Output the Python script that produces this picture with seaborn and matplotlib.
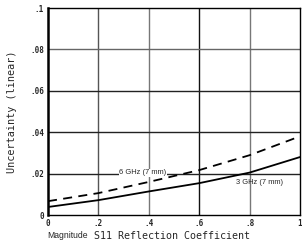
import numpy as np
import pandas as pd
import matplotlib
matplotlib.use("Agg")
import matplotlib.pyplot as plt
import seaborn as sns

# values
magnitude = [0.0, 0.2, 0.4, 0.6, 0.8, 1.0]
unc_3ghz = [0.0039, 0.0072, 0.0114, 0.0154, 0.0205, 0.0280]
unc_6ghz = [0.0067, 0.0106, 0.0160, 0.0217, 0.0289, 0.0380]
xticks = [0, 0.2, 0.4, 0.6, 0.8, 1.0]
xlabels = ["0", ".2", ".4", ".6", ".8", "1"]
yticks = [0, 0.02, 0.04, 0.06, 0.08, 0.1]
ylabels = ["0", ".02", ".04", ".06", ".08", ".1"]

df = pd.DataFrame({"mag": magnitude, "3 GHz": unc_3ghz, "6 GHz": unc_6ghz})
df = df.melt(id_vars="mag", var_name="freq", value_name="unc")

sns.set_style("white")
plt.rcParams["font.family"] = ["DejaVu Sans"]

fig = plt.figure(figsize=(3.02, 2.43), dpi=100)
ax = fig.add_axes([0.159, 0.115, 0.834, 0.852])

sns.lineplot(data=df, x="mag", y="unc", style="freq", color="black",
             dashes={"3 GHz": "", "6 GHz": (5, 3.5)}, lw=1.3, legend=False, ax=ax)

ax.set_xlim(0, 1)
ax.set_ylim(0, 0.1)
ax.set_xticks(xticks)
ax.set_xticklabels(xlabels)
ax.set_yticks(yticks)
ax.set_yticklabels(ylabels)
ax.tick_params(length=0, labelsize=5.5, pad=3)
for t in ax.get_xticklabels() + ax.get_yticklabels():
    t.set_family("DejaVu Sans Mono")
    t.set_fontweight("bold")

for v, c in zip([0.2, 0.4, 0.6, 0.8], ["#555555", "#777777", "#111111", "#777777"]):
    ax.axvline(v, color=c, lw=1.0, zorder=0)
for v, c in zip([0.02, 0.04, 0.06, 0.08], ["#222222", "#222222", "#222222", "#666666"]):
    ax.axhline(v, color=c, lw=1.0, zorder=0)
for s in ax.spines.values():
    s.set_color("black")
    s.set_linewidth(1.0)
ax.spines["left"].set_linewidth(1.8)

ax.set_xlabel("")
ax.set_ylabel("Uncertainty (linear)", family="DejaVu Sans Mono", fontsize=7.3, labelpad=9)

fig.text(0.157, 0.03, "Magnitude", fontsize=6.2, family="Liberation Sans", va="center")
fig.text(0.311, 0.03, "S11 Reflection Coefficient", fontsize=7.2, family="DejaVu Sans Mono",
         va="center")

ax.text(0.282, 0.0204, "6 GHz (7 mm)", fontsize=5.4, family="Liberation Sans",
        va="center", ha="left", bbox=dict(facecolor="white", edgecolor="none", pad=0.3))
ax.text(0.746, 0.0157, "3 GHz (7 mm)", fontsize=5.4, family="Liberation Sans",
        va="center", ha="left")

fig.savefig("out.png", dpi=100)
